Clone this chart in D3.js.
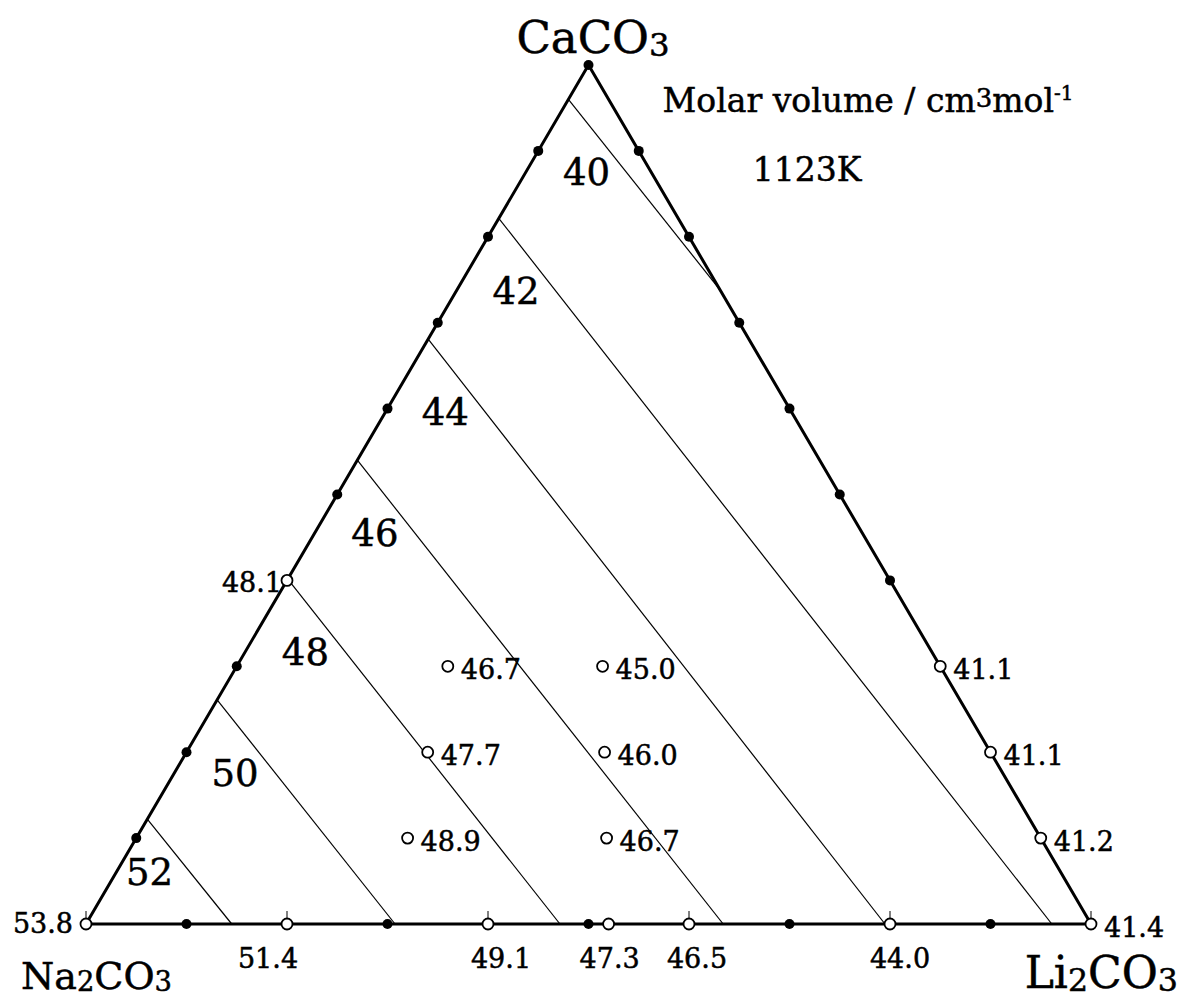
<!DOCTYPE html>
<html>
<head>
<meta charset="utf-8">
<script src="https://cdn.jsdelivr.net/npm/d3@7"></script>
<style>
  body { margin: 0; background: #fff; }
  svg { display: block; }
  text { font-family: "DejaVu Serif", "Liberation Serif", serif; fill: #000; stroke: #000; stroke-width: 0.5px; }
</style>
</head>
<body>
<svg id="chart" width="1181" height="999"></svg>
<script>
// Ternary system CaCO3 - Na2CO3 - Li2CO3.
// Compositions are given as mole fractions of CaCO3 (Ca) and Li2CO3 (Li);
// Na2CO3 is the remainder.
const componentTop = "CaCO3";
const componentLeft = "Na2CO3";
const componentRight = "Li2CO3";
const titleText = "Molar volume / cm";
const temperatureText = "1123K";

// Measured molar volumes (cm3 mol-1)
const pointCa  = [0,    0,    0,    0,    0,    0,    0,    0.1,  0.2,  0.3,  0.4,  0.3,  0.2,  0.1,  0.3,   0.2,   0.1];
const pointLi  = [0,    0.2,  0.4,  0.52, 0.6,  0.8,  1.0,  0.9,  0.8,  0.7,  0,    0.21, 0.24, 0.27, 0.364, 0.416, 0.468];
const pointVol = [53.8, 51.4, 49.1, 47.3, 46.5, 44.0, 41.4, 41.2, 41.1, 41.1, 48.1, 46.7, 47.7, 48.9, 45.0,  46.0,  46.7];

// Iso-volume lines: level with start / end compositions
const isoLevel   = [40,    42,     44,    46,    48,     50,     52];
const isoStartCa = [0.960, 0.8215, 0.681, 0.540, 0.4016, 0.261,  0.122];
const isoStartLi = [0,     0,      0,     0,     0,      0,      0];
const isoEndCa   = [0.738, 0,      0,     0,     0,      0,      0];
const isoEndLi   = [0.262, 0.961,  0.795, 0.634, 0.4716, 0.3075, 0.145];

// Composition grid along the edges (mole fraction steps)
const gridSteps = [0.1, 0.2, 0.3, 0.4, 0.5, 0.6, 0.7, 0.8, 0.9];
// Short marks above the open circles on the base
const baseMarkLi = [0, 0.2, 0.4, 0.6, 0.8, 1.0];

// ---------- layout ----------
const svg = d3.select("#chart");
const sx = d3.scaleLinear().domain([0, 1]).range([86, 1091]);   // horizontal position (Li + Ca/2)
const sy = d3.scaleLinear().domain([0, 1]).range([924, 65]);    // vertical position (Ca)
const px = (ca, li) => sx(li + ca / 2);
const py = (ca) => sy(ca);

const points = pointVol.map((v, i) => ({ ca: pointCa[i], li: pointLi[i], v }));
const isoLines = isoLevel.map((lv, i) => ({
  level: lv,
  a: [px(isoStartCa[i], isoStartLi[i]), py(isoStartCa[i])],
  b: [px(isoEndCa[i], isoEndLi[i]), py(isoEndCa[i])]
}));

// iso-volume lines
svg.append("g").selectAll("line").data(isoLines).join("line")
  .attr("x1", d => d.a[0]).attr("y1", d => d.a[1])
  .attr("x2", d => d.b[0]).attr("y2", d => d.b[1])
  .attr("stroke", "#000").attr("stroke-width", 1.2);

// iso-volume labels, placed just left of each line below its start
const labelDrop = d => Math.min(73, 0.5 * (d.b[1] - d.a[1]));
svg.append("g").selectAll("text").data(isoLines).join("text")
  .attr("x", d => {
    const t = labelDrop(d) / (d.b[1] - d.a[1]);
    return d.a[0] + t * (d.b[0] - d.a[0]) - 40;
  })
  .attr("y", d => d.a[1] + labelDrop(d) + 13)
  .attr("text-anchor", "middle")
  .attr("font-size", 37)
  .text(d => d.level);

// triangle outline
const corners = [[1, 0], [0, 0], [0, 1]];
svg.append("path")
  .attr("d", d3.line()(corners.map(([ca, li]) => [px(ca, li), py(ca)])) + "Z")
  .attr("fill", "none").attr("stroke", "#000").attr("stroke-width", 3)
  .attr("stroke-linejoin", "miter");

// small marks above base circles
svg.append("g").selectAll("line").data(baseMarkLi).join("line")
  .attr("x1", d => px(0, d)).attr("x2", d => px(0, d))
  .attr("y1", py(0) - 13).attr("y2", py(0) - 5)
  .attr("stroke", "#000").attr("stroke-width", 1);

// grid dots on the edges (skipping places with a measurement)
const hasPoint = (ca, li) => points.some(p => Math.abs(p.ca - ca) < 1e-6 && Math.abs(p.li - li) < 1e-6);
const gridDots = [{ ca: 1, li: 0 }];
gridSteps.forEach(s => {
  gridDots.push({ ca: s, li: 0 });
  gridDots.push({ ca: s, li: 1 - s });
  gridDots.push({ ca: 0, li: s });
});
svg.append("g").selectAll("circle")
  .data(gridDots.filter(d => !hasPoint(d.ca, Math.round(d.li * 1000) / 1000)))
  .join("circle")
  .attr("cx", d => px(d.ca, d.li)).attr("cy", d => py(d.ca))
  .attr("r", 5).attr("fill", "#000");

// measured points
svg.append("g").selectAll("circle").data(points).join("circle")
  .attr("cx", d => px(d.ca, d.li)).attr("cy", d => py(d.ca))
  .attr("r", 5.5).attr("fill", "#fff").attr("stroke", "#000").attr("stroke-width", 1.8);

// value labels
const baseNudge = { 1: -19, 2: 13, 3: 1, 4: 8, 5: 10 };
svg.append("g").selectAll("text").data(points).join("text")
  .attr("font-size", 27)
  .each(function (d, i) {
    const x = px(d.ca, d.li), y = py(d.ca);
    const t = d3.select(this);
    if (d.ca === 0 && d.li > 0 && d.li < 1) {
      t.attr("x", x + (baseNudge[i] || 0)).attr("y", y + 44).attr("text-anchor", "middle");
    } else if (d.li === 0) {
      t.attr("x", x - (d.ca === 0 ? 13 : 5)).attr("y", y + (d.ca === 0 ? 9 : 12)).attr("text-anchor", "end");
    } else {
      t.attr("x", x + 13).attr("y", y + 13).attr("text-anchor", "start");
    }
  })
  .text(d => d.v.toFixed(1));

// chemical formula with subscripts
function formula(x, y, str, size, anchor) {
  const t = svg.append("text").attr("x", x).attr("y", y)
    .attr("font-size", size).attr("text-anchor", anchor);
  let shift = 0;
  str.match(/[A-Za-z]+|\d+/g).forEach(part => {
    const sub = /\d/.test(part);
    const target = sub ? size * 0.06 : 0;
    const span = t.append("tspan").attr("dy", target - shift).text(part);
    if (sub) span.attr("font-size", size * 0.72);
    shift = target;
  });
}
formula(593, 53, componentTop, 45, "middle");
formula(21, 989, componentLeft, 38, "start");
formula(1178, 988, componentRight, 44, "end");

// title with units
const title = svg.append("text").attr("x", 868).attr("y", 112)
  .attr("text-anchor", "middle").attr("font-size", 33);
title.append("tspan").text(titleText);
title.append("tspan").attr("font-size", 26).attr("dy", -5).text("3");
title.append("tspan").attr("dy", 5).text("mol");
title.append("tspan").attr("font-size", 20).attr("dy", -12).text("-1");

svg.append("text").attr("x", 807).attr("y", 181)
  .attr("text-anchor", "middle").attr("font-size", 33)
  .text(temperatureText);
</script>
</body>
</html>
